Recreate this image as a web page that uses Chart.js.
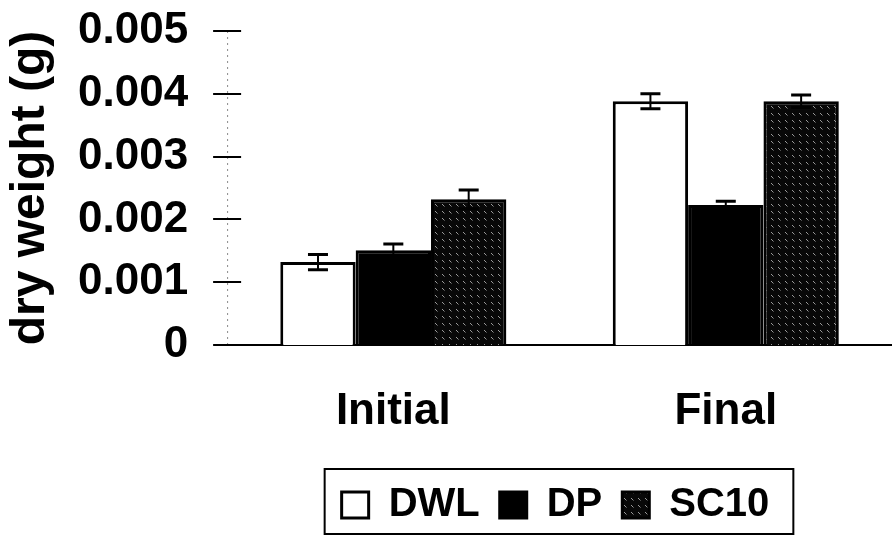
<!DOCTYPE html>
<html>
<head>
<meta charset="utf-8">
<script src="https://cdn.jsdelivr.net/npm/chart.js@4.4.0/dist/chart.umd.min.js"></script>
<style>
    html, body { margin: 0; padding: 0; background: #fff; }
    #wrap { width: 892px; height: 536px; }
</style>
</head>
<body>
<div id="wrap"><canvas id="weightChart" width="892" height="536"></canvas></div>
<script>
// data
const categories = ['Initial', 'Final'];
const seriesNames = ['DWL', 'DP', 'SC10'];
const dwlValues = [0.00132, 0.00388];
const dpValues = [0.00151, 0.00223];
const sc10Values = [0.00232, 0.00388];
const dwlErrors = [0.00012, 0.00012];
const dpErrors = [0.00010, 0.00006];
const sc10Errors = [0.00015, 0.00010];
const yTickLabels = ['0', '0.001', '0.002', '0.003', '0.004', '0.005'];

const fontFamily = "'Liberation Sans', Arial, Helvetica, sans-serif";

// dark stipple used for SC10
function makeStipple() {
    let c = document.createElement('canvas');
    c.width = 7;
    c.height = 7;
    let g = c.getContext('2d');
    g.fillStyle = '#080808';
    g.fillRect(0, 0, 7, 7);
    g.strokeStyle = '#9a9a9a';
    g.lineWidth = 1;
    g.beginPath();
    g.moveTo(1, 1);
    g.lineTo(3.5, 3.5);
    g.stroke();
    return g.createPattern(c, 'repeat');
}

const errorBars = {
    id: 'errorBars',
    afterDatasetsDraw(chart) {
        let ctx = chart.ctx;
        let y = chart.scales.y;
        ctx.save();
        ctx.strokeStyle = '#000';
        chart.data.datasets.forEach(function (ds, i) {
            let meta = chart.getDatasetMeta(i);
            meta.data.forEach(function (bar, j) {
                let v = ds.data[j];
                let e = ds.errors[j];
                let top = y.getPixelForValue(v + e);
                let bot = y.getPixelForValue(v - e);
                ctx.lineWidth = 2;
                ctx.beginPath();
                ctx.moveTo(bar.x, top);
                ctx.lineTo(bar.x, bot);
                ctx.stroke();
                ctx.lineWidth = 3;
                ctx.beginPath();
                ctx.moveTo(bar.x - 10, top);
                ctx.lineTo(bar.x + 10, top);
                ctx.moveTo(bar.x - 10, bot);
                ctx.lineTo(bar.x + 10, bot);
                ctx.stroke();
            });
        });
        ctx.restore();
    }
};

// dotted y axis with crossing ticks, legend nudge and frame
const axisExtras = {
    id: 'axisExtras',
    afterLayout(chart) {
        chart.legend.left += 106;
        chart.legend.right += 106;
        chart.legend.top -= 14;
        chart.legend.bottom -= 14;
    },
    beforeDatasetsDraw(chart) {
        let ctx = chart.ctx;
        let a = chart.chartArea;
        ctx.save();
        ctx.strokeStyle = '#8a8a8a';
        ctx.lineWidth = 1;
        ctx.setLineDash([2, 4]);
        ctx.beginPath();
        ctx.moveTo(a.left + 0.5, a.top);
        ctx.lineTo(a.left + 0.5, a.bottom);
        ctx.stroke();
        ctx.restore();
    },
    afterDraw(chart) {
        let ctx = chart.ctx;
        let y = chart.scales.y;
        let x0 = chart.chartArea.left;
        ctx.save();
        ctx.strokeStyle = '#000';
        ctx.lineWidth = 2;
        y.ticks.forEach(function (t, i) {
            let py = Math.round(y.getPixelForTick(i));
            ctx.beginPath();
            ctx.moveTo(x0 - 14, py);
            ctx.lineTo(x0 + 14, py);
            ctx.stroke();
        });
        let boxes = chart.legend.legendHitBoxes;
        if (boxes.length) {
            let first = boxes[0];
            let last = boxes[boxes.length - 1];
            let left = first.left - 17;
            let right = last.left + last.width + 24;
            let top = first.top - 16;
            ctx.strokeRect(left, top, right - left, chart.height - 2 - top);
        }
        ctx.restore();
    }
};

let ctx = document.getElementById('weightChart').getContext('2d');
let myChart = new Chart(ctx, {
    type: 'bar',
    data: {
        labels: categories,
        datasets: [{
            label: seriesNames[0],
            data: dwlValues,
            errors: dwlErrors,
            backgroundColor: '#ffffff',
            borderColor: '#000000',
            borderWidth: 3
        }, {
            label: seriesNames[1],
            data: dpValues,
            errors: dpErrors,
            backgroundColor: '#000000',
            borderColor: '#000000',
            borderWidth: 3
        }, {
            label: seriesNames[2],
            data: sc10Values,
            errors: sc10Errors,
            backgroundColor: makeStipple(),
            borderColor: '#000000',
            borderWidth: 3
        }]
    },
    options: {
        responsive: false,
        animation: false,
        categoryPercentage: 0.68,
        barPercentage: 1.0,
        layout: {
            padding: { left: 7, right: 0, top: 0, bottom: -13 }
        },
        plugins: {
            legend: {
                position: 'bottom',
                labels: {
                    boxWidth: 27,
                    boxHeight: 26,
                    padding: 20,
                    color: '#000',
                    font: { family: fontFamily, size: 40, weight: 'bold', lineHeight: 1 }
                }
            },
            tooltip: { enabled: false }
        },
        scales: {
            x: {
                grid: { display: false, drawTicks: false },
                border: { display: true, color: '#000', width: 2 },
                ticks: {
                    padding: 45,
                    color: '#000',
                    font: { family: fontFamily, size: 44, weight: 'bold', lineHeight: 1 }
                }
            },
            y: {
                min: 0,
                max: 0.005,
                // tick marks are drawn by the plugin; tickLength only spaces the labels
                grid: { display: false, drawTicks: true, tickLength: 30 },
                border: { display: false },
                ticks: {
                    stepSize: 0.001,
                    autoSkip: false,
                    padding: 9,
                    color: '#000',
                    font: { family: fontFamily, size: 44, weight: 'bold', lineHeight: 1 },
                    callback: function (value, index) {
                        return yTickLabels[index];
                    }
                },
                title: {
                    display: true,
                    text: 'dry weight (g)',
                    color: '#000',
                    padding: { top: 0, bottom: 14 },
                    font: { family: fontFamily, size: 48, weight: 'bold', lineHeight: 1 }
                }
            }
        }
    },
    plugins: [errorBars, axisExtras]
});
</script>
</body>
</html>
